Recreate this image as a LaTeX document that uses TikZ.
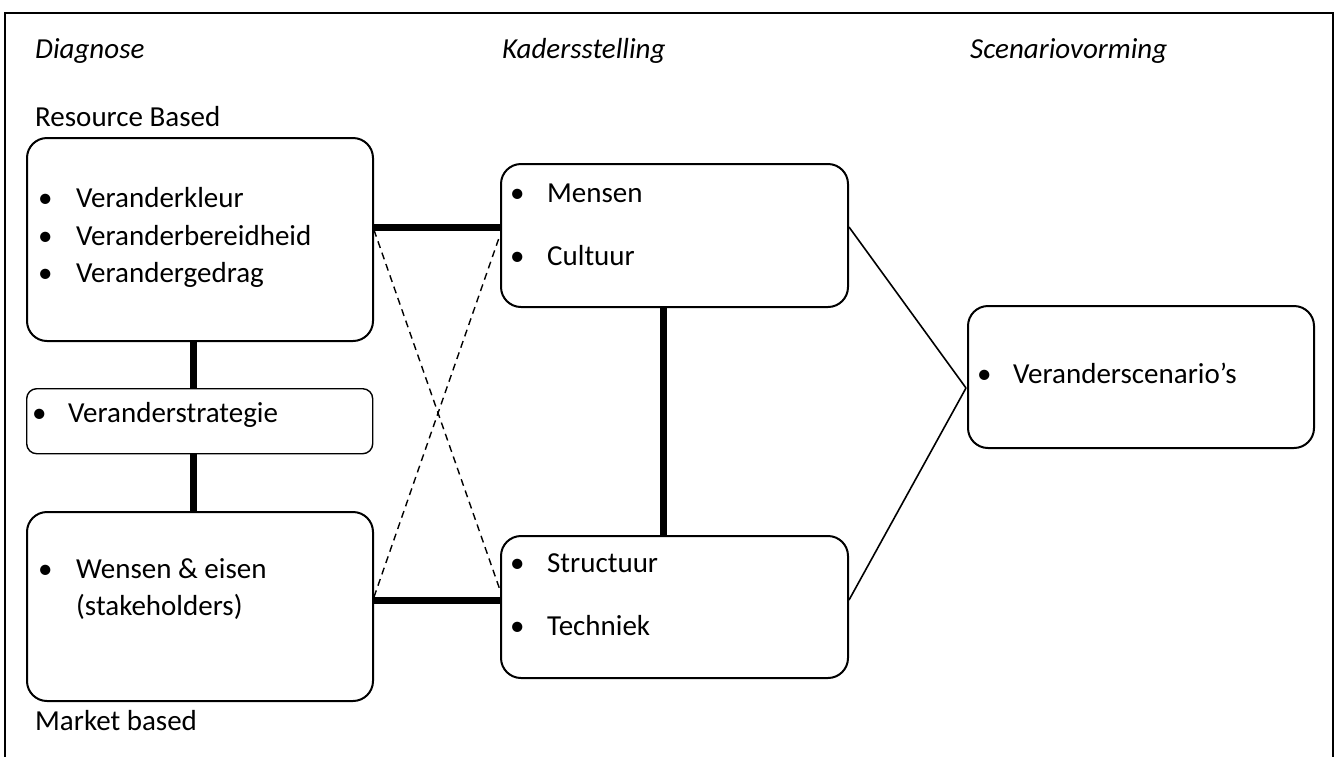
\documentclass[tikz,border=0pt]{standalone}
\usepackage{fontspec}
\setmainfont{Carlito}
\newcommand{\bodyfont}{\fontsize{29pt}{35pt}\selectfont}
\newcommand{\bul}[1]{\llap{\makebox[#1][l]{\textbullet}}}
\begin{document}
\begin{tikzpicture}[x=1pt,y=-1pt,
  box/.style={draw, line width=2pt, rounded corners=20pt, anchor=north west, inner sep=0pt},
  smallbox/.style={draw, line width=1.4pt, rounded corners=10pt, anchor=north west, inner sep=0pt},
  lbl/.style={anchor=base west, inner sep=0pt, font=\bodyfont},
  heavy/.style={line width=7pt},
  thinline/.style={line width=1.6pt},
  dashline/.style={line width=1.4pt, dash pattern=on 7pt off 5pt}]
\useasboundingbox (0,0) rectangle (1337,756);
% outer frame (runs off the lower edge)
\draw[line width=2pt] (5,760) -- (5,13) -- (1333,13) -- (1333,760);

% column headings and side labels
\node[lbl] (hDiag) at (35,58) {\itshape Diagnose};
\node[lbl] (hKader) at (502,58) {\itshape Kadersstelling};
\node[lbl] (hScen) at (970,58) {\itshape Scenariovorming};
\node[lbl] (rb) at (35,126) {Resource Based};
\node[lbl] (mb) at (35,730) {Market based};

% boxes
\node[box, minimum width=346pt, minimum height=203pt] (A) at (26,137) {};
\node[smallbox, minimum width=346pt, minimum height=65pt] (V) at (26,388) {};
\node[box, minimum width=346pt, minimum height=189pt] (W) at (26,511) {};
\node[box, minimum width=347pt, minimum height=143pt] (M) at (500,163) {};
\node[box, minimum width=347pt, minimum height=142pt] (S) at (500,535) {};
\node[box, minimum width=346pt, minimum height=142pt] (C) at (967,305) {};

% box texts
\node[lbl] (a1) at (76,207) {\bul{38pt}Veranderkleur};
\node[lbl] (a2) at (76,245) {\bul{38pt}Veranderbereidheid};
\node[lbl] (a3) at (76,282) {\bul{38pt}Verandergedrag};
\node[lbl] (v1) at (68,422) {\bul{36pt}Veranderstrategie};
\node[lbl] (w1) at (76,578) {\bul{38pt}Wensen \& eisen};
\node[lbl] (w2) at (76,615) {(stakeholders)};
\node[lbl] (m1) at (547,202) {\bul{37pt}Mensen};
\node[lbl] (m2) at (547,265) {\bul{37pt}Cultuur};
\node[lbl] (s1) at (547,572) {\bul{37pt}Structuur};
\node[lbl] (s2) at (547,635) {\bul{37pt}Techniek};
\node[lbl] (c1) at (1013,383) {\bul{36pt}Veranderscenario’s};

% helper coordinates for connector heights and offsets
\coordinate (yTop) at (0,227);
\coordinate (yBot) at (0,600);
\coordinate (xLeft) at (193,0);
\coordinate (xMid) at (663,0);
\coordinate (apex) at (966,388);

% heavy connectors
\draw[heavy] (A.east |- yTop) -- (M.west |- yTop);
\draw[heavy] (W.east |- yBot) -- (S.west |- yBot);
\draw[heavy] (A.south -| xLeft) -- (V.north -| xLeft);
\draw[heavy] (V.south -| xLeft) -- (W.north -| xLeft);
\draw[heavy] (M.south -| xMid) -- (S.north -| xMid);

% dashed cross
\draw[dashline] ([yshift=-3pt]A.east |- yTop) -- ([yshift=10pt]S.west |- yBot);
\draw[dashline] ([yshift=3pt]W.east |- yBot) -- ([yshift=-8pt]M.west |- yTop);

% thin lines to scenarios
\draw[thinline] (M.east |- yTop) -- (apex);
\draw[thinline] (S.east |- yBot) -- (apex);
\end{tikzpicture}
\end{document}
